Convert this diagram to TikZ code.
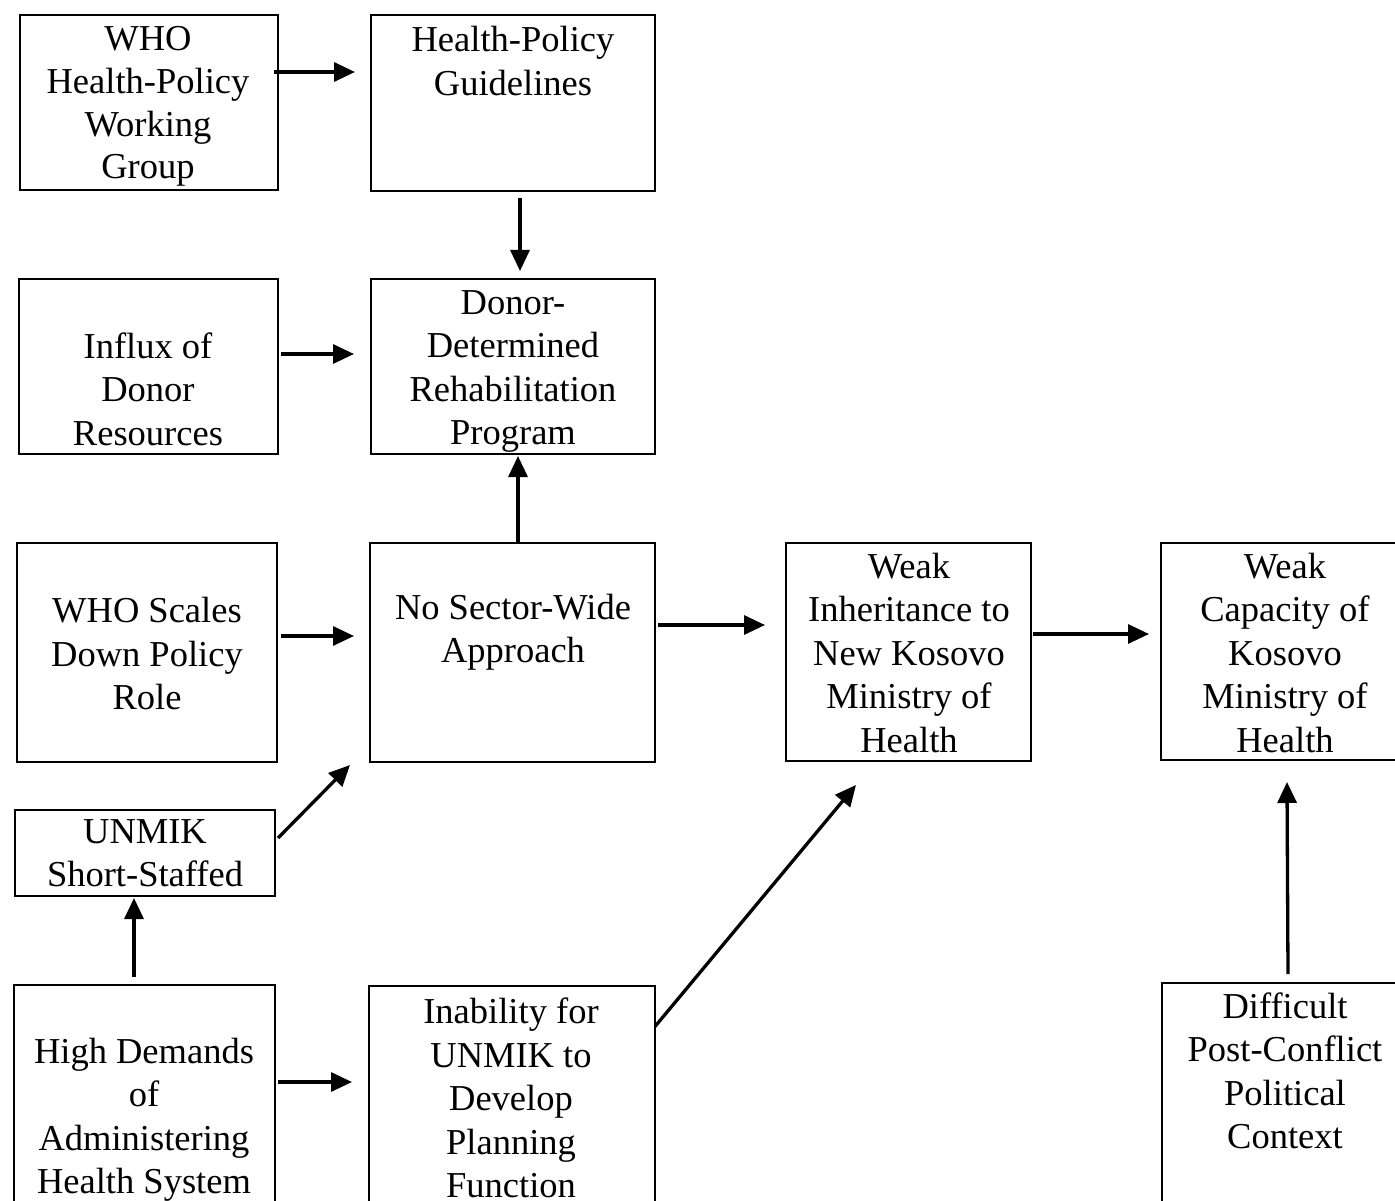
\documentclass[tikz,border=0pt]{standalone}
\usepackage{fontspec}
\setmainfont{Liberation Serif}
\usetikzlibrary{arrows.meta}
\begin{document}
\begin{tikzpicture}[x=1pt,y=-1pt,
  box/.style={draw,line width=2pt,rectangle,inner sep=0pt},
  txt/.style={align=center,inner sep=0pt,font=\fontsize{36.5}{43.5}\selectfont},
  arr/.style={line width=3.3pt,-{Triangle[length=21pt,width=19pt]}}]
\useasboundingbox (0,0) rectangle (1395,1201);
\clip (0,0) rectangle (1395,1201);
% boxes
\node[box,minimum width=258pt,minimum height=175pt] (b1) at (149,102.5) {};
\node[box,minimum width=284pt,minimum height=176pt] (b2) at (513,103) {};
\node[box,minimum width=259pt,minimum height=175pt] (b3) at (148.5,366.5) {};
\node[box,minimum width=284pt,minimum height=175pt] (b4) at (513,366.5) {};
\node[box,minimum width=260pt,minimum height=219pt] (b5) at (147,652.5) {};
\node[box,minimum width=285pt,minimum height=219pt] (b6) at (512.5,652.5) {};
\node[box,minimum width=245pt,minimum height=218pt] (b7) at (908.5,652) {};
\node[box,minimum width=249pt,minimum height=217pt] (b8) at (1285.5,651.5) {};
\node[box,minimum width=260pt,minimum height=86pt] (b9) at (145,853) {};
\node[box,minimum width=261pt,minimum height=230pt] (b10) at (144.5,1100) {};
\node[box,minimum width=286pt,minimum height=229pt] (b11) at (512,1100.5) {};
\node[box,minimum width=248pt,minimum height=232pt] (b12) at (1286,1099) {};
% texts
\node[txt,font=\fontsize{36.5}{42.8}\selectfont] (t1) at (148,106.5) {WHO\\Health-Policy\\Working\\Group};
\node[txt] (t2) at (513,61) {Health-Policy\\Guidelines};
\node[txt] (t3) at (148,389) {Influx of\\Donor\\Resources};
\node[txt] (t4) at (513,371.5) {Donor-\\Determined\\Rehabilitation\\Program};
\node[txt] (t5) at (147,654) {WHO Scales\\Down Policy\\Role};
\node[txt] (t6) at (513,632) {No Sector-Wide\\Approach};
\node[txt] (t7) at (909,653) {Weak\\Inheritance to\\New Kosovo\\Ministry of\\Health};
\node[txt] (t8) at (1285,653) {Weak\\Capacity of\\Kosovo\\Ministry of\\Health};
\node[txt] (t9) at (145,853) {UNMIK\\Short-Staffed};
\node[txt] (t10) at (144,1120) {High Demands\\of\\Administering\\Health System};
\node[txt] (t11) at (511,1098) {Inability for\\UNMIK to\\Develop\\Planning\\Function};
\node[txt] (t12) at (1285,1071) {Difficult\\Post-Conflict\\Political\\Context};
% arrows
\draw[arr] ([shift={(-5,-30.5)}]b1.east) -- ([shift={(-15,-31)}]b2.west);
\draw[arr] ([shift={(7,6)}]b2.south) -- ([shift={(7,-7)}]b4.north);
\draw[arr] ([shift={(2,-12.5)}]b3.east) -- ([shift={(-16,-12.5)}]b4.west);
\draw[arr] ([shift={(5.5,0)}]b6.north) -- ([shift={(5,1)}]b4.south);
\draw[arr] ([shift={(3,-16.5)}]b5.east) -- ([shift={(-15,-16.5)}]b6.west);
\draw[arr] ([shift={(2,-27.5)}]b6.east) -- ([shift={(-20,-27)}]b7.west);
\draw[arr] ([shift={(1,-18)}]b7.east) -- ([shift={(-11,-17.5)}]b8.west);
\draw[arr] ([shift={(2,-15)}]b9.east) -- ([shift={(-19,2)}]b6.south west);
\draw[arr] ([shift={(-10.5,-7)}]b10.north) -- ([shift={(-11,1)}]b9.south);
\draw[arr] ([shift={(2,-18)}]b10.east) -- ([shift={(-16,-18.5)}]b11.west);
\draw[arr] ([shift={(-1,-74)}]b11.east) -- ([shift={(-52.5,23)}]b7.south);
\draw[arr] ([shift={(2,-8)}]b12.north) -- ([shift={(1.5,21)}]b8.south);
\end{tikzpicture}
\end{document}
